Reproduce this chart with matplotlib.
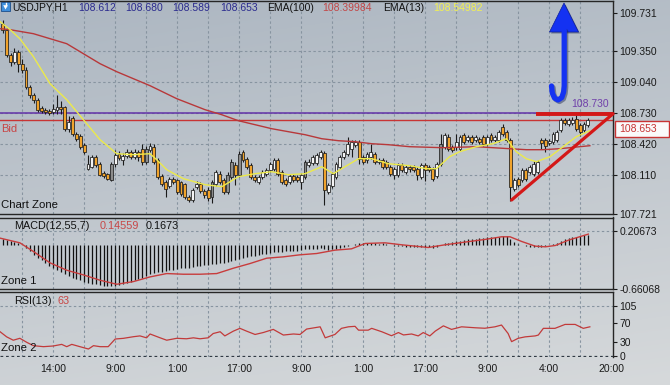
import numpy as np
import matplotlib
matplotlib.use("Agg")
import matplotlib.pyplot as plt
from matplotlib.patches import Rectangle, Polygon

plt.rcParams['font.family'] = ['Liberation Sans', 'DejaVu Sans']

# ---------------- data ----------------
opens = [109.62, 109.56, 109.31, 109.24, 109.34, 109.22, 109.16, 108.99, 108.91, 108.86,
         108.78, 108.76, 108.75, 108.74, 108.76, 108.79, 108.79, 108.57, 108.68, 108.52,
         108.50, 108.41, 108.17, 108.19, 108.29, 108.22, 108.13, 108.12, 108.06, 108.22,
         108.32, 108.26, 108.30, 108.34, 108.29, 108.34, 108.37, 108.24, 108.36, 108.39,
         108.26, 108.10, 108.04, 108.00, 108.07, 108.06, 108.04, 108.02, 107.89, 107.86,
         107.99, 108.02, 107.95, 107.96, 107.89, 108.02, 108.12, 108.06, 107.94, 108.09,
         108.21, 108.11, 108.34, 108.27, 108.21, 108.09, 108.04, 108.09, 108.12, 108.16,
         108.17, 108.26, 108.14, 108.06, 108.04, 108.10, 108.09, 108.04, 108.09, 108.21,
         108.23, 108.23, 108.29, 108.33, 107.94, 108.00, 108.09, 108.19, 108.29, 108.32,
         108.37, 108.41, 108.44, 108.29, 108.26, 108.29, 108.32, 108.24, 108.26, 108.24,
         108.19, 108.11, 108.11, 108.21, 108.14, 108.19, 108.19, 108.17, 108.09, 108.21,
         108.19, 108.17, 108.10, 108.22, 108.39, 108.49, 108.39, 108.39, 108.37, 108.51,
         108.46, 108.49, 108.46, 108.47, 108.49, 108.42, 108.51, 108.46, 108.46, 108.59,
         108.54, 108.46, 107.97, 108.07, 108.06, 108.16, 108.14, 108.12, 108.14, 108.46,
         108.46, 108.43, 108.44, 108.46, 108.56, 108.66, 108.62, 108.63, 108.67, 108.61,
         108.56, 108.612]
highs = [109.66, 109.58, 109.33, 109.38, 109.36, 109.27, 109.19, 109.01, 108.93, 108.88,
         108.80, 108.78, 108.77, 108.82, 108.91, 108.85, 108.80, 108.70, 108.70, 108.54,
         108.52, 108.43, 108.31, 108.31, 108.31, 108.24, 108.15, 108.13, 108.24, 108.36,
         108.35, 108.33, 108.37, 108.36, 108.37, 108.36, 108.42, 108.40, 108.43, 108.42,
         108.28, 108.12, 108.06, 108.09, 108.09, 108.07, 108.05, 108.03, 107.91, 107.98,
         108.05, 108.04, 107.97, 107.99, 108.06, 108.16, 108.15, 108.08, 108.14, 108.27,
         108.24, 108.35, 108.36, 108.29, 108.23, 108.11, 108.11, 108.16, 108.18, 108.24,
         108.28, 108.28, 108.16, 108.08, 108.12, 108.12, 108.11, 108.13, 108.26, 108.27,
         108.31, 108.33, 108.36, 108.35, 108.03, 108.14, 108.24, 108.31, 108.36, 108.49,
         108.46, 108.46, 108.46, 108.31, 108.34, 108.42, 108.34, 108.28, 108.28, 108.26,
         108.21, 108.19, 108.23, 108.23, 108.21, 108.21, 108.21, 108.19, 108.23, 108.23,
         108.21, 108.19, 108.24, 108.52, 108.53, 108.52, 108.41, 108.52, 108.51, 108.53,
         108.51, 108.51, 108.51, 108.49, 108.51, 108.51, 108.53, 108.51, 108.56, 108.62,
         108.56, 108.48, 108.08, 108.09, 108.18, 108.18, 108.21, 108.25, 108.26, 108.48,
         108.48, 108.47, 108.54, 108.56, 108.68, 108.68, 108.68, 108.69, 108.72, 108.63,
         108.64, 108.680]
lows = [109.53, 109.29, 109.20, 109.22, 109.14, 109.13, 108.97, 108.88, 108.83, 108.74,
        108.73, 108.72, 108.71, 108.72, 108.72, 108.72, 108.55, 108.54, 108.50, 108.45,
        108.37, 108.32, 108.16, 108.18, 108.19, 108.10, 108.08, 108.06, 108.05, 108.19,
        108.26, 108.21, 108.28, 108.27, 108.27, 108.25, 108.21, 108.22, 108.34, 108.22,
        108.07, 108.00, 107.89, 107.98, 108.02, 107.92, 107.90, 107.87, 107.84, 107.84,
        107.97, 107.93, 107.88, 107.85, 107.83, 108.00, 108.02, 107.92, 107.92, 108.07,
        108.01, 108.09, 108.24, 108.17, 108.07, 108.04, 108.02, 108.07, 108.10, 108.14,
        108.15, 108.10, 108.02, 108.00, 108.02, 108.04, 108.04, 107.97, 108.07, 108.19,
        108.21, 108.21, 108.27, 107.81, 107.92, 107.98, 108.07, 108.17, 108.27, 108.30,
        108.29, 108.39, 108.22, 108.22, 108.23, 108.27, 108.22, 108.22, 108.17, 108.17,
        108.10, 108.07, 108.09, 108.14, 108.12, 108.14, 108.14, 108.06, 108.07, 108.05,
        108.14, 108.05, 108.08, 108.20, 108.37, 108.35, 108.34, 108.36, 108.35, 108.42,
        108.44, 108.42, 108.44, 108.42, 108.40, 108.40, 108.44, 108.44, 108.44, 108.50,
        108.44, 107.85, 107.95, 107.99, 108.04, 108.05, 108.12, 108.10, 108.12, 108.37,
        108.34, 108.41, 108.42, 108.44, 108.54, 108.61, 108.60, 108.61, 108.55, 108.50,
        108.54, 108.589]
closes = [109.56, 109.31, 109.24, 109.34, 109.22, 109.16, 108.99, 108.91, 108.86, 108.76,
          108.75, 108.74, 108.73, 108.77, 108.79, 108.77, 108.57, 108.64, 108.52, 108.47,
          108.39, 108.34, 108.22, 108.29, 108.21, 108.11, 108.10, 108.07, 108.22, 108.31,
          108.28, 108.30, 108.34, 108.29, 108.34, 108.29, 108.24, 108.37, 108.40, 108.24,
          108.09, 108.02, 107.97, 108.07, 108.04, 107.94, 107.92, 107.89, 107.86, 107.96,
          108.02, 107.95, 107.91, 107.88, 108.04, 108.14, 108.04, 107.94, 108.11, 108.24,
          108.11, 108.32, 108.26, 108.19, 108.09, 108.06, 108.09, 108.14, 108.16, 108.22,
          108.26, 108.12, 108.04, 108.02, 108.10, 108.06, 108.06, 108.11, 108.24, 108.24,
          108.29, 108.31, 108.34, 107.96, 108.01, 108.12, 108.22, 108.29, 108.34, 108.42,
          108.44, 108.44, 108.27, 108.24, 108.32, 108.34, 108.24, 108.26, 108.19, 108.19,
          108.12, 108.17, 108.21, 108.16, 108.19, 108.17, 108.16, 108.11, 108.21, 108.16,
          108.16, 108.07, 108.22, 108.42, 108.51, 108.37, 108.36, 108.44, 108.49, 108.44,
          108.49, 108.44, 108.49, 108.44, 108.42, 108.49, 108.46, 108.49, 108.54, 108.52,
          108.46, 107.99, 108.06, 108.01, 108.16, 108.07, 108.19, 108.22, 108.24, 108.43,
          108.40, 108.45, 108.52, 108.54, 108.66, 108.63, 108.66, 108.66, 108.57, 108.54,
          108.62, 108.653]

ema100_x = [-0.7, 1.9, 7.9, 16.5, 25.1, 29.4, 38.0, 44.9, 52.2, 56.5, 60.8, 65.1, 69.4, 73.7,
            78.0, 82.3, 86.6, 90.9, 95.2, 99.5, 105.0, 113.6, 122.2, 130.8, 135.1, 139.4, 143.7, 151.5]
ema100_y = [109.57, 109.56, 109.52, 109.42, 109.22, 109.14, 109.00, 108.87, 108.76, 108.71,
            108.65, 108.61, 108.57, 108.54, 108.51, 108.47, 108.45, 108.44, 108.42, 108.41,
            108.39, 108.38, 108.39, 108.37, 108.36, 108.36, 108.37, 108.40]

ema13_x = [-0.7, 1.9, 4.4, 7.9, 12.2, 16.5, 20.8, 25.1, 29.4, 33.7, 38.0, 39.7, 42.3, 46.6,
           52.2, 56.5, 60.8, 65.1, 69.4, 73.7, 78.0, 82.3, 85.3, 88.3, 91.8, 95.2, 99.5, 105.0,
           109.3, 111.9, 115.3, 117.9, 122.2, 126.5, 130.0, 132.5, 135.1, 137.7, 141.2, 144.6,
           148.0, 151.5]
ema13_y = [109.64, 109.56, 109.47, 109.29, 109.02, 108.86, 108.66, 108.46, 108.32, 108.31,
           108.32, 108.26, 108.16, 108.07, 108.01, 107.99, 108.09, 108.12, 108.14, 108.11,
           108.12, 108.19, 108.12, 108.19, 108.27, 108.27, 108.22, 108.20, 108.17, 108.17,
           108.29, 108.34, 108.39, 108.42, 108.47, 108.34, 108.27, 108.24, 108.29, 108.39,
           108.49, 108.55]

macd_hist = [0.08, 0.07, 0.05, 0.04, 0.02, 0.00, -0.05, -0.10, -0.15, -0.19,
             -0.23, -0.27, -0.31, -0.34, -0.37, -0.40, -0.44, -0.47, -0.49, -0.51,
             -0.53, -0.55, -0.57, -0.58, -0.59, -0.60, -0.61, -0.62, -0.62, -0.61,
             -0.60, -0.59, -0.57, -0.55, -0.53, -0.51, -0.49, -0.46, -0.44, -0.42,
             -0.41, -0.40, -0.39, -0.38, -0.37, -0.36, -0.35, -0.35, -0.34, -0.33,
             -0.32, -0.31, -0.30, -0.30, -0.29, -0.28, -0.27, -0.27, -0.26, -0.24,
             -0.23, -0.21, -0.20, -0.18, -0.17, -0.16, -0.15, -0.14, -0.13, -0.12,
             -0.11, -0.11, -0.11, -0.10, -0.10, -0.10, -0.09, -0.08, -0.07, -0.07,
             -0.06, -0.06, -0.05, -0.07, -0.08, -0.07, -0.06, -0.05, -0.04, -0.02,
             0.00, 0.01, 0.02, 0.02, 0.02, 0.03, 0.02, 0.01, 0.02, 0.01,
             -0.01, -0.02, -0.02, -0.02, -0.03, -0.03, -0.03, -0.04, -0.03, -0.04,
             -0.04, -0.05, -0.03, 0.00, 0.02, 0.03, 0.04, 0.05, 0.06, 0.07,
             0.08, 0.09, 0.09, 0.10, 0.10, 0.11, 0.11, 0.12, 0.12, 0.13,
             0.13, 0.08, 0.04, 0.01, -0.01, -0.02, -0.03, -0.04, -0.04, -0.03,
             -0.02, -0.01, 0.01, 0.03, 0.06, 0.08, 0.10, 0.11, 0.12, 0.13,
             0.14, 0.146]
macd_sig_x = [-0.7, 4.4, 7.9, 12.2, 16.5, 20.8, 25.1, 29.4, 33.7, 38.0, 42.3, 46.6, 50.9,
              55.2, 59.5, 63.8, 68.1, 72.4, 76.6, 81.0, 85.7, 90.0, 93.5, 98.6, 103.0, 109.8,
              114.1, 120.1, 124.4, 128.7, 130.9, 133.9, 137.4, 140.0, 142.6, 146.0, 151.1]
macd_sig_y = [0.10, 0.03, -0.10, -0.27, -0.38, -0.45, -0.53, -0.59, -0.55, -0.48, -0.43,
              -0.44, -0.44, -0.43, -0.35, -0.28, -0.20, -0.18, -0.15, -0.13, -0.08, -0.06,
              0.02, 0.03, 0.00, -0.04, 0.00, 0.047, 0.08, 0.12, 0.12, 0.05, -0.02, -0.03,
              -0.01, 0.07, 0.16]

rsi_x = [-0.7, 1.0, 2.7, 4.4, 6.2, 7.9, 10.5, 13.0, 15.2, 16.5, 17.8, 19.9, 22.1, 23.4, 25.1,
         27.2, 29.0, 31.1, 33.7, 35.4, 37.1, 38.0, 40.6, 42.3, 44.9, 47.4, 49.2, 50.9, 53.0,
         54.3, 56.1, 57.3, 59.5, 61.2, 62.9, 65.1, 67.2, 69.8, 72.4, 75.0, 76.7, 78.4, 81.9,
         83.2, 85.7, 87.4, 89.2, 90.9, 91.8, 94.3, 95.2, 97.8, 100.3, 102.1, 103.4, 105.5,
         107.2, 108.5, 110.2, 111.6, 113.7, 115.8, 118.4, 121.9, 124.4, 127.0, 128.7, 130.4,
         131.3, 133.0, 134.8, 137.4, 138.2, 139.5, 142.5, 145.1, 147.7, 149.8, 151.5]
rsi_y = [50.7, 40, 33, 37, 28.5, 21.6, 19.5, 20.9, 24.3, 19.5, 24.3, 19.5, 14.6, 21.6, 19.5,
         19.5, 35.5, 36.9, 40.3, 42, 38, 46, 38, 33, 37, 36, 38, 36, 38,
         47, 50.7, 42, 52, 57.8, 52, 45, 49, 55.6, 43.8, 46, 45, 56.3, 61,
         38, 45, 57.8, 61, 62, 54, 54, 57.8, 50.7, 42.4, 49, 44, 46,
         42, 49, 42, 52, 63, 55.6, 61, 59, 58, 61, 64.7, 47,
         30, 37, 40, 42, 43.8, 57.8, 57.8, 66, 66, 57.8, 61]

price_ticks = [109.731, 109.350, 109.040, 108.730, 108.420, 108.110, 107.721]
price_grid = [109.350, 109.040, 108.730, 108.420, 108.110]
macd_ticks = [0.20673, -0.66068]
rsi_ticks = [105, 70, 30, 0]
time_tick_bars = [13, 29, 45, 61, 77, 93, 109, 125, 141, 157]
time_labels = ["14:00", "9:00", "1:00", "17:00", "9:00", "1:00", "17:00", "9:00", "4:00", "20:00"]
grid_bars = list(range(5, 150, 8))

resistance = 108.730
bid = 108.653
top_line_x = [137.6, 157.5]
top_line_y = [108.72, 108.72]
trend_x = [131.3, 157.5]
trend_y = [107.857, 108.72]

# ---------------- layout ----------------
W, H = 670.0, 385.0
BAR0, BARW = 2.8, 3.875
PANEL_R = 612.5

def px2bar(px):
    return (px - BAR0) / BARW

fig = plt.figure(figsize=(6.7, 3.85), dpi=100)

# background gradient
bg = fig.add_axes([0, 0, 1, 1])
bg.set_zorder(-10)
gy = np.linspace(0, 1, 200)[:, None]
gx = np.linspace(0, 1, 300)[None, :]
c_top = np.array([172, 182, 193]) / 255
c_bot = np.array([214, 217, 219]) / 255
t = np.clip(0.8 * gy + 0.2 * gx, 0, 1)
img = c_top + (c_bot - c_top) * t[..., None]
bg.imshow(img, aspect='auto', extent=[0, 1, 0, 1])
bg.axis('off')

def add_panel(top, bottom):
    a = fig.add_axes([0, 1 - bottom / H, PANEL_R / W, (bottom - top) / H])
    a.set_facecolor('none')
    a.set_xlim(px2bar(0), px2bar(PANEL_R))
    a.spines['left'].set_visible(False)
    for s in ('top', 'right', 'bottom'):
        a.spines[s].set_color('#262626')
        a.spines[s].set_linewidth(1.0)
    a.yaxis.tick_right()
    a.tick_params(axis='y', direction='out', length=3, width=0.8, colors='#1a1a1a',
                  labelsize=7.5, pad=2)
    a.set_xticks([])
    return a

GRID = '#8794a0'
DASH = (0, (2.2, 2.2))

def price_at(px):
    return 109.857 - 0.01 * px

ax = add_panel(0.5, 214)
am = add_panel(217.5, 289)
ar = add_panel(292, 357)

ax.set_ylim(price_at(214), price_at(0.5))
am.set_ylim(-0.661, 0.20673 + (231 - 217.5) * 0.014955)
ar.set_ylim(-1.0 / 0.4785, (356 - 292) / 0.4785)

for a in (ax, am, ar):
    for g in grid_bars:
        a.axvline(g, color=GRID, lw=0.8, ls=DASH, zorder=0.5)
for v in price_grid:
    ax.axhline(v, color=GRID, lw=0.8, ls=DASH, zorder=0.5)
am.axhline(macd_ticks[0], color=GRID, lw=0.8, ls=DASH, zorder=0.5)
ar.axhline(105, color=GRID, lw=0.8, ls=DASH, zorder=0.5)
ar.axhline(0, color='#303a44', lw=0.9, ls=DASH, zorder=0.5)
ar.spines['bottom'].set_visible(False)

# ---- main panel ----
ax.axhline(resistance, color='#6232a8', lw=1.1, zorder=2.5)
ax.axhline(bid, color='#c83434', lw=1.0, zorder=2.5)

o = np.array(opens); c = np.array(closes); hi = np.array(highs); lo = np.array(lows)
x = np.arange(len(c))
up = c >= o
ax.vlines(x, lo, hi, color='#1a1a1a', lw=0.8, zorder=3)
body_bot = np.minimum(o, c)
body_h = np.maximum(np.abs(c - o), 0.006)
cols = np.where(up, np.where((c - o) >= 0.13, '#8c8c8c', '#f4f4f4'), '#f0a32c')
ax.bar(x, body_h, bottom=body_bot, width=0.74, color=cols, edgecolor='#1e1e1e',
       linewidth=0.55, zorder=4)

ax.plot(ema100_x, ema100_y, color='#b8383a', lw=1.0, zorder=5)
ax.plot(ema13_x, ema13_y, color='#ecea4a', lw=1.0, zorder=5)

ax.plot(top_line_x, top_line_y, color='#d41818', lw=2.8, solid_capstyle='butt',
        zorder=6, clip_on=False)
ax.plot(trend_x, trend_y, color='#d41818', lw=2.3, solid_capstyle='round',
        zorder=6, clip_on=False)

ax.set_yticks(price_ticks)
ax.set_yticklabels([f"{v:.3f}" for v in price_ticks])

# ---- MACD panel ----
am.vlines(x, 0, macd_hist, color='#111111', lw=0.9, zorder=3)
am.plot(macd_sig_x, macd_sig_y, color='#c83c3c', lw=1.0, zorder=4)
am.set_yticks(macd_ticks)
am.set_yticklabels(["0.20673", "-0.66068"])

# ---- RSI panel ----
ar.plot(rsi_x, rsi_y, color='#c23a3a', lw=0.9, zorder=4)
ar.set_yticks(rsi_ticks)
ar.set_yticklabels([str(v) for v in rsi_ticks])
ar.set_xticks(time_tick_bars)
ar.set_xticklabels(time_labels)
ar.tick_params(axis='x', length=0, pad=5, labelsize=7.5, colors='#1a1a1a')

# ---- texts ----
def ftext(px, py, s, **kw):
    kw.setdefault('va', 'center')
    kw.setdefault('ha', 'left')
    fig.text(px / W, 1 - py / H, s, **kw)

HS = 7.5
ftext(12, 8, "USDJPY,H1", fontsize=HS, color='#111111')
for px, s in zip([78, 125, 172, 220], ["108.612", "108.680", "108.589", "108.653"]):
    ftext(px, 8, s, fontsize=HS, color='#2a2a8e')
ftext(267, 8, "EMA(100)", fontsize=HS, color='#111111')
ftext(322, 8, "108.39984", fontsize=HS, color='#c24646')
ftext(383, 8, "EMA(13)", fontsize=HS, color='#111111')
ftext(433, 8, "108.54982", fontsize=HS, color='#f2f052')

ftext(1, 129, "Bid", fontsize=8, color='#c84646')
ftext(609, 104.5, "108.730", fontsize=HS, color='#7040aa', ha='right')
ftext(1, 205.5, "Chart Zone", fontsize=8.2, color='#111111')
ftext(14, 226, "MACD(12,55,7)", fontsize=7.8, color='#111111')
ftext(100, 226, "0.14559", fontsize=7.8, color='#c84646')
ftext(146, 226, "0.1673", fontsize=7.8, color='#111111')
ftext(1, 281, "Zone 1", fontsize=8.2, color='#111111')
ftext(14, 300.5, "RSI(13)", fontsize=7.8, color='#111111')
ftext(57, 300.5, "63", fontsize=7.8, color='#c84646')
ftext(1, 348, "Zone 2", fontsize=8.2, color='#111111')

# ---- overlay annotations (pixel space) ----
ov = fig.add_axes([0, 0, 1, 1])
ov.set_zorder(20)
ov.set_xlim(0, W)
ov.set_ylim(H, 0)
ov.axis('off')
ov.patch.set_alpha(0)

# header icon
ov.add_patch(Rectangle((1, 2), 9, 9, fc='#3f8fdc', ec='#1d4f8a', lw=0.6))
ov.add_patch(Polygon([(3.2, 5.2), (7.8, 5.2), (5.5, 9.5)], closed=True, fc='white', ec='none'))
ov.plot([5.5, 5.5], [3.0, 6.0], color='white', lw=1.0)

# price box
ov.add_patch(Rectangle((615, 120.5), 54, 16.5, fc='#fafafa', ec='#c83434', lw=1.0))
ov.text(619, 129, "108.653", fontsize=HS, color='#c83434', va='center', ha='left')

# blue arrow (shadow + arrow)
shaft_x = [551.5, 552.3, 554.5, 558.0, 561.8, 563.6, 564.2, 564.2]
shaft_y = [86.0, 93.0, 98.0, 100.0, 97.5, 92.0, 86.0, 30.0]
head = [(549.5, 32.0), (578.5, 32.0), (564.0, 3.0)]
ov.plot([v + 1.5 for v in shaft_x], [v + 1.5 for v in shaft_y], color='#1a2450',
        lw=3.8, alpha=0.45, solid_capstyle='round')
ov.add_patch(Polygon([(a + 1.5, b + 1.5) for a, b in head], closed=True,
                     fc='#1a2450', ec='none', alpha=0.45))
ov.plot(shaft_x, shaft_y, color='#1432f2', lw=3.8, solid_capstyle='round')
ov.add_patch(Polygon(head, closed=True, fc='#1432f2', ec='#0c1e9a', lw=0.5))

fig.savefig("out.png", dpi=100)
